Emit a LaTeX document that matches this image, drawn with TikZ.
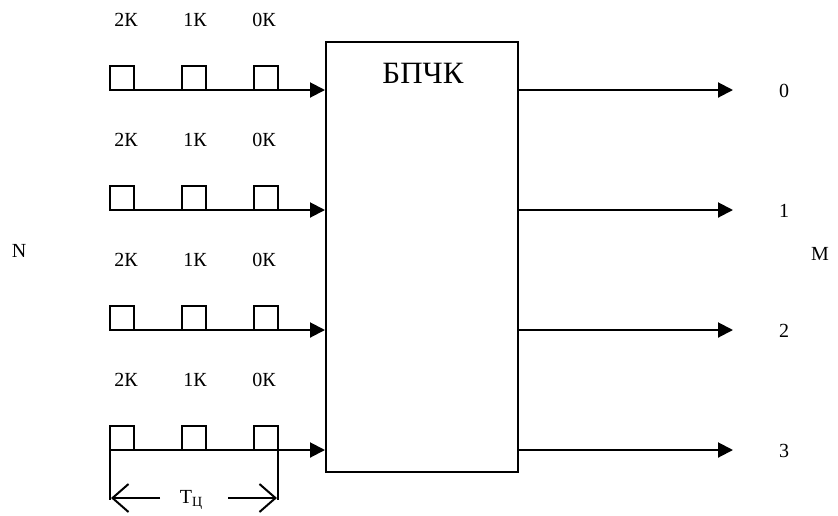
\documentclass[tikz,border=0pt]{standalone}
\usepackage{fontspec}
\setmainfont{Liberation Serif}
\usetikzlibrary{arrows.meta}
\tikzset{
  wire/.style={line width=2pt, -{Triangle[length=15pt,width=15pt]}},
  pulse/.style={line width=2pt},
  dimline/.style={line width=2pt, -{Straight Barb[length=16pt,width=28pt,line width=2pt]}},
  lbl/.style={font=\fontsize{20}{22}\selectfont, inner sep=0pt},
  blockbox/.style={draw, line width=2pt, minimum width=192pt, minimum height=430pt, inner sep=0pt}
}
\begin{document}
\begin{tikzpicture}[x=1pt,y=-1pt]
\useasboundingbox (0,0) rectangle (838,515);
\node[blockbox] (box) at (422,257) {};
\node[font=\fontsize{31}{33}\selectfont, inner sep=0pt] (title) at (423,73) {БПЧК};
\foreach \i/\y in {0/90,1/210,2/330,3/450}{
  \coordinate (in\i) at (110,\y);
  \draw[pulse] (110,\y) rectangle (134,\y-24);
  \draw[pulse] (182,\y) rectangle (206,\y-24);
  \draw[pulse] (254,\y) rectangle (278,\y-24);
  \draw[wire] (in\i) -- (in\i -| box.west);
  \node[lbl] (k2\i) at (126,\y-70) {2К};
  \node[lbl] (k1\i) at (195,\y-70) {1К};
  \node[lbl] (k0\i) at (264,\y-70) {0К};
  \coordinate (out\i) at (733,\y);
  \draw[wire] (out\i -| box.east) -- (out\i);
  \node[lbl] (o\i) at (784,\y+1) {\i};
}
\node[lbl] (N) at (19,251) {N};
\node[lbl] (M) at (820,254) {M};
\coordinate (e2) at (278,450);
\coordinate (d1) at (110,500);
\coordinate (d2) at (278,500);
\coordinate (a1) at (160,498);
\coordinate (b1) at (111,498);
\coordinate (a2) at (228,498);
\coordinate (b2) at (277,498);
\draw[pulse] (in3) -- (d1);
\draw[pulse] (e2) -- (d2);
\node[lbl] (T) at (191,500) {Т\raisebox{-0.35ex}{\fontsize{14}{15}\selectfont Ц}};
\draw[dimline] (a1) -- (b1);
\draw[dimline] (a2) -- (b2);
\end{tikzpicture}
\end{document}
